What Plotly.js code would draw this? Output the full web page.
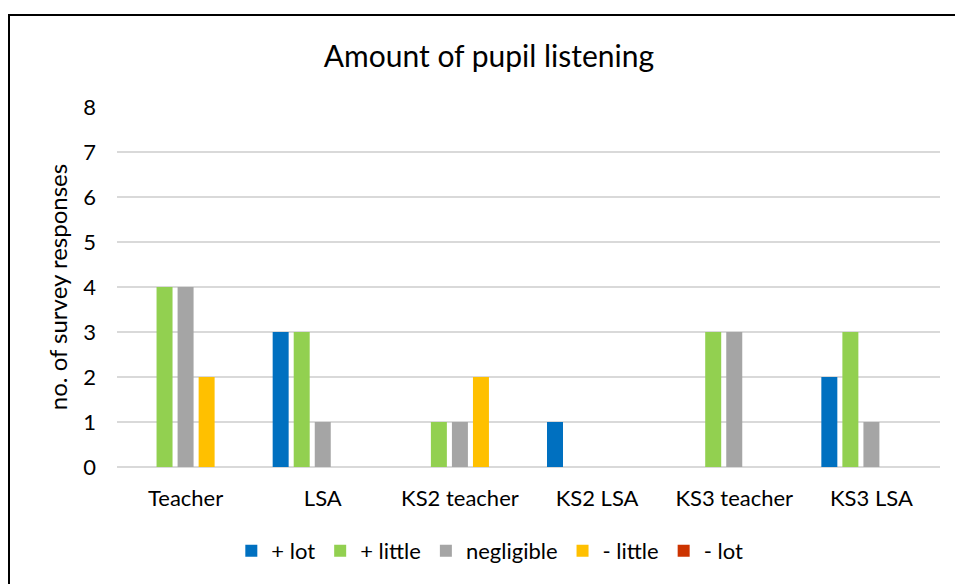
<!DOCTYPE html>
<html>
<head>
<meta charset="utf-8">
<script src="https://cdn.plot.ly/plotly-3.0.1.min.js"></script>
<style>
  html, body { margin: 0; padding: 0; background: #fff; }
  #wrap { position: relative; width: 955px; height: 584px; overflow: hidden; }
  #chart { position: absolute; left: 0; top: 0; width: 955px; height: 584px; }
  #frame { position: absolute; left: 8px; top: 14px; width: 1000px; height: 600px;
           border-left: 2px solid #000; border-top: 2px solid #000; pointer-events: none; }
</style>
</head>
<body>
<div id="wrap">
  <div id="chart"></div>
  <div id="frame"></div>
</div>
<script>
// Survey groups along the x axis
const categories = ["Teacher", "LSA", "KS2 teacher", "KS2 LSA", "KS3 teacher", "KS3 LSA"];

// Number of responses per answer
const plusLot    = [0, 3, 0, 1, 0, 2];
const plusLittle = [4, 3, 1, 0, 3, 3];
const negligible = [4, 1, 1, 0, 3, 1];
const minusLittle= [2, 0, 2, 0, 0, 0];
const minusLot   = [0, 0, 0, 0, 0, 0];

const seriesNames  = ["+ lot", "+ little", "negligible", "- little", "- lot"];
const seriesValues = [plusLot, plusLittle, negligible, minusLittle, minusLot];
const seriesColors = ["#0070C0", "#92D050", "#A5A5A5", "#FFC000", "#CC3300"];

const yTicks = [0, 1, 2, 3, 4, 5, 6, 7, 8];

const FONT = "Lato, 'Open Sans', sans-serif";

const traces = seriesNames.map((name, i) => ({
  type: "bar",
  name: name,
  x: categories,
  y: seriesValues[i],
  marker: { color: seriesColors[i], line: { width: 0 } },
  hoverinfo: "x+y+name"
}));

const layout = {
  width: 955,
  height: 584,
  paper_bgcolor: "#ffffff",
  plot_bgcolor: "#ffffff",
  font: { family: FONT, size: 22, color: "#000000" },
  margin: { l: 117, r: 15, t: 107, b: 117 },
  barmode: "group",
  bargap: 0.233,
  bargroupgap: 0.24,
  title: {
    text: "Amount of pupil listening",
    font: { family: FONT, size: 30, color: "#000000" },
    x: 0.512, xanchor: "center",
    xref: "container",
    y: 1 - 56 / 584, yanchor: "middle", yref: "container"
  },
  xaxis: {
    type: "category",
    showgrid: false,
    showline: false,
    zeroline: false,
    ticks: "",
    ticklabelstandoff: 16,
    tickfont: { family: FONT, size: 22, color: "#000000" }
  },
  yaxis: {
    range: [0, 8],
    tickvals: yTicks,
    ticktext: yTicks.map(String),
    showgrid: true,
    gridcolor: "#D9D9D9",
    gridwidth: 2,
    zeroline: true,
    zerolinecolor: "#D9D9D9",
    zerolinewidth: 2,
    showline: false,
    ticks: "",
    ticklabelstandoff: 20,
    tickfont: { family: FONT, size: 22, color: "#000000" },
    title: {
      text: "no. of survey responses",
      font: { family: FONT, size: 24, color: "#000000" },
      standoff: 8
    }
  },
  legend: {
    orientation: "h",
    x: 0.453, xanchor: "center",
    y: 1 - 551 / 584, yanchor: "middle", yref: "container",
    font: { family: FONT, size: 22, color: "#000000" },
    itemwidth: 30,
    traceorder: "normal"
  },
  showlegend: true
};

Plotly.newPlot("chart", traces, layout, { displayModeBar: false, staticPlot: true });
</script>
</body>
</html>
